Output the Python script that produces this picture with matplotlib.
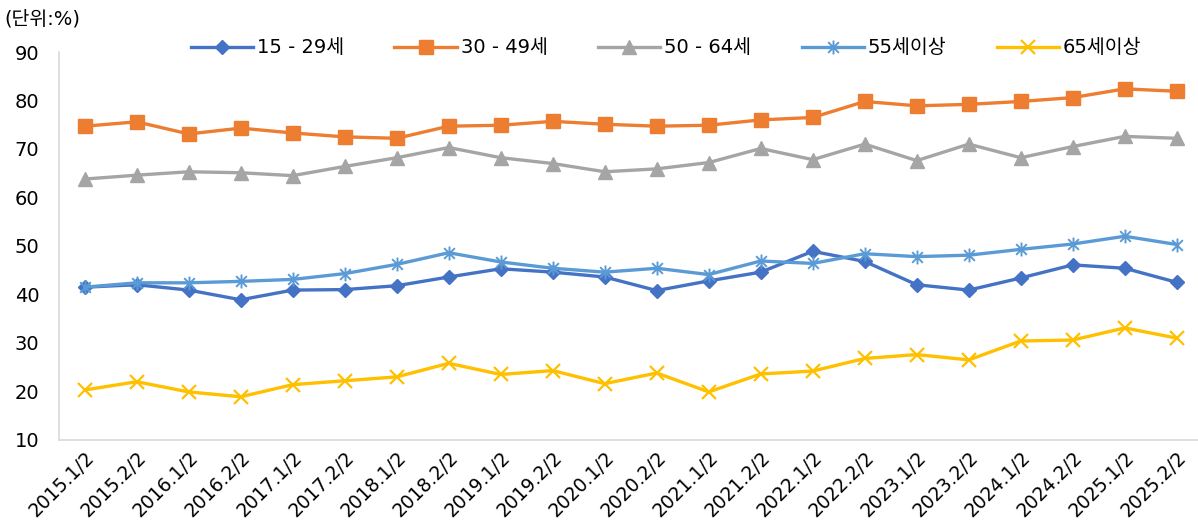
import matplotlib.pyplot as plt
from matplotlib.path import Path

plt.rcParams['font.family'] = ['DejaVu Sans', 'Noto Sans CJK KR']

# 분기(반기) 라벨
periods = ['2015.1/2', '2015.2/2', '2016.1/2', '2016.2/2', '2017.1/2', '2017.2/2',
           '2018.1/2', '2018.2/2', '2019.1/2', '2019.2/2', '2020.1/2', '2020.2/2',
           '2021.1/2', '2021.2/2', '2022.1/2', '2022.2/2', '2023.1/2', '2023.2/2',
           '2024.1/2', '2024.2/2', '2025.1/2', '2025.2/2']

age_15_29 = [41.5, 42.0, 40.9, 38.9, 40.9, 41.0, 41.8, 43.6, 45.3, 44.6, 43.6, 40.8,
             42.8, 44.6, 48.9, 46.8, 42.0, 40.9, 43.4, 46.1, 45.4, 42.5]
age_30_49 = [74.7, 75.6, 73.1, 74.3, 73.3, 72.5, 72.2, 74.7, 74.9, 75.7, 75.1, 74.7,
             74.9, 76.0, 76.5, 79.8, 78.9, 79.2, 79.8, 80.6, 82.4, 81.9]
age_50_64 = [63.8, 64.6, 65.3, 65.1, 64.5, 66.4, 68.2, 70.3, 68.2, 67.0, 65.3, 65.9,
             67.2, 70.1, 67.8, 71.0, 67.6, 71.0, 68.2, 70.5, 72.6, 72.2]
age_55_up = [41.5, 42.4, 42.4, 42.7, 43.1, 44.3, 46.2, 48.6, 46.7, 45.4, 44.6, 45.4,
             44.1, 46.9, 46.4, 48.4, 47.8, 48.1, 49.3, 50.4, 52.0, 50.3]
age_65_up = [20.3, 22.0, 19.9, 18.9, 21.4, 22.2, 23.0, 25.8, 23.5, 24.3, 21.6, 23.8,
             19.9, 23.6, 24.2, 26.8, 27.6, 26.5, 30.4, 30.6, 33.1, 31.0]

# 엑셀식 별표 마커 (x + 세로선)
star = Path([(-1, -1), (1, 1), (-1, 1), (1, -1), (0, -1.3), (0, 1.3)],
            [Path.MOVETO, Path.LINETO, Path.MOVETO, Path.LINETO, Path.MOVETO, Path.LINETO])

fig = plt.figure(figsize=(11.98, 5.2), dpi=100)
ax = fig.add_axes([0.049, 0.154, 0.955, 0.746])

x = list(range(len(periods)))
lw = 2.4
ax.plot(x, age_15_29, color='#4472C4', lw=lw, marker='D', ms=7, label='15 - 29세')
ax.plot(x, age_30_49, color='#ED7D31', lw=lw, marker='s', ms=9.5, label='30 - 49세')
ax.plot(x, age_50_64, color='#A5A5A5', lw=lw, marker='^', ms=10, label='50 - 64세')
ax.plot(x, age_55_up, color='#5B9BD5', lw=lw, marker=star, ms=10, mew=1.4,
        mfc='none', label='55세이상')
ax.plot(x, age_65_up, color='#FFC000', lw=lw, marker='x', ms=10, mew=1.6, label='65세이상')

ax.set_xlim(-0.5, len(periods) - 0.5)
ax.set_ylim(10, 90)
ax.set_yticks(range(10, 91, 10))
ax.set_xticks(x)
ax.set_xticklabels(periods, rotation=45, ha='right', rotation_mode='anchor', fontsize=13.5)
ax.tick_params(axis='y', labelsize=14, length=0, pad=14)
ax.tick_params(axis='x', length=0, pad=6)

for side in ['top', 'right']:
    ax.spines[side].set_visible(False)
ax.spines['left'].set_color('#D9D9D9')
ax.spines['bottom'].set_color('#D9D9D9')
ax.spines['left'].set_linewidth(1.2)
ax.spines['bottom'].set_linewidth(1.2)

fig.text(0.004, 0.963, '(단위:%)', fontsize=14, va='center', ha='left')
fig.legend(loc='center', bbox_to_anchor=(0.556, 0.908), ncol=5, frameon=False,
           fontsize=14, handlelength=3.2, columnspacing=2.6, handletextpad=0.2)

fig.savefig('out.png', dpi=100)
